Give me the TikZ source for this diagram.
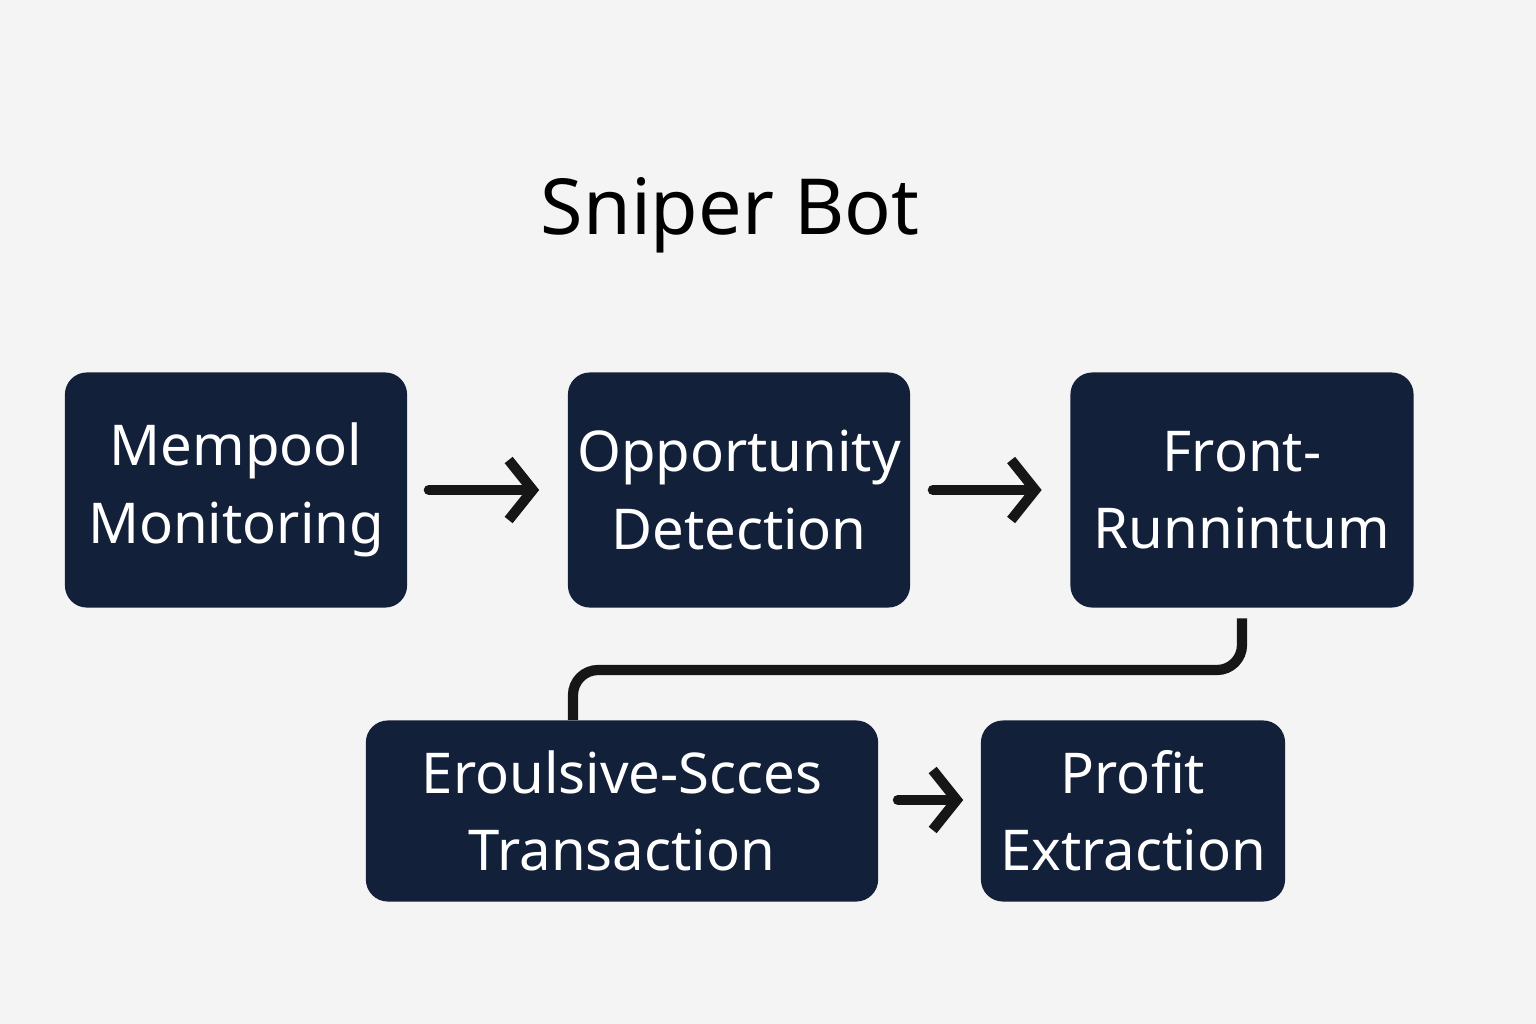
\documentclass[tikz,border=0pt]{standalone}
\usepackage{fontspec}
\setmainfont{Noto Sans}
\usetikzlibrary{arrows.meta,positioning}
\definecolor{boxfill}{HTML}{13203A}
\definecolor{pagebg}{HTML}{F4F4F4}
\definecolor{ink}{HTML}{161616}
\begin{document}
\begin{tikzpicture}
    [x=0.01cm,y=-0.01cm,
     stage/.style={fill=boxfill,rounded corners=0.22cm,text=white,align=center,
       font=\fontsize{16}{22}\selectfont\bfseries,inner sep=0pt},
     flow/.style={-{Straight Barb[length=2.4mm,width=6mm]},line width=2.9pt,draw=ink,
       line cap=round,line join=round}]
    \fill [pagebg] (0,0) rectangle (1536,1024);
    \node (title) at (730,215) {\fontsize{22}{26}\selectfont\bfseries Sniper Bot};
    \node [stage,minimum width=3.42cm,minimum height=2.35cm] (mempool) at (236,490) {Mempool\\Monitoring};
    \node [stage,minimum width=3.42cm,minimum height=2.35cm] (detect) at (739,490) {Opportunity\\Detection};
    \node [stage,minimum width=3.43cm,minimum height=2.35cm] (front) at (1242,490) {Front-\\Runnintum};
    \node [stage,minimum width=5.12cm,minimum height=1.81cm] (excl) at (622,811) {Eroulsive-Scces\\Transaction};
    \node [stage,minimum width=3.04cm,minimum height=1.81cm] (profit) at (1133,811) {Profit\\Extraction};
    \draw [flow,shorten <=0.21cm,shorten >=0.28cm] (mempool) -- (detect);
    \draw [flow,shorten <=0.22cm,shorten >=0.28cm] (detect) -- (front);
    \draw [flow,shorten <=0.19cm,shorten >=0.17cm] ([yshift=0.11cm]excl.east) -- ([yshift=0.11cm]profit.west);
    \coordinate (bend) at (573,670);
    \draw [line width=2.9pt,draw=ink,rounded corners=0.25cm,shorten <=0.1cm]
      (front.south) |- (bend) -- (bend |- excl.north);
  \end{tikzpicture}
\end{document}
